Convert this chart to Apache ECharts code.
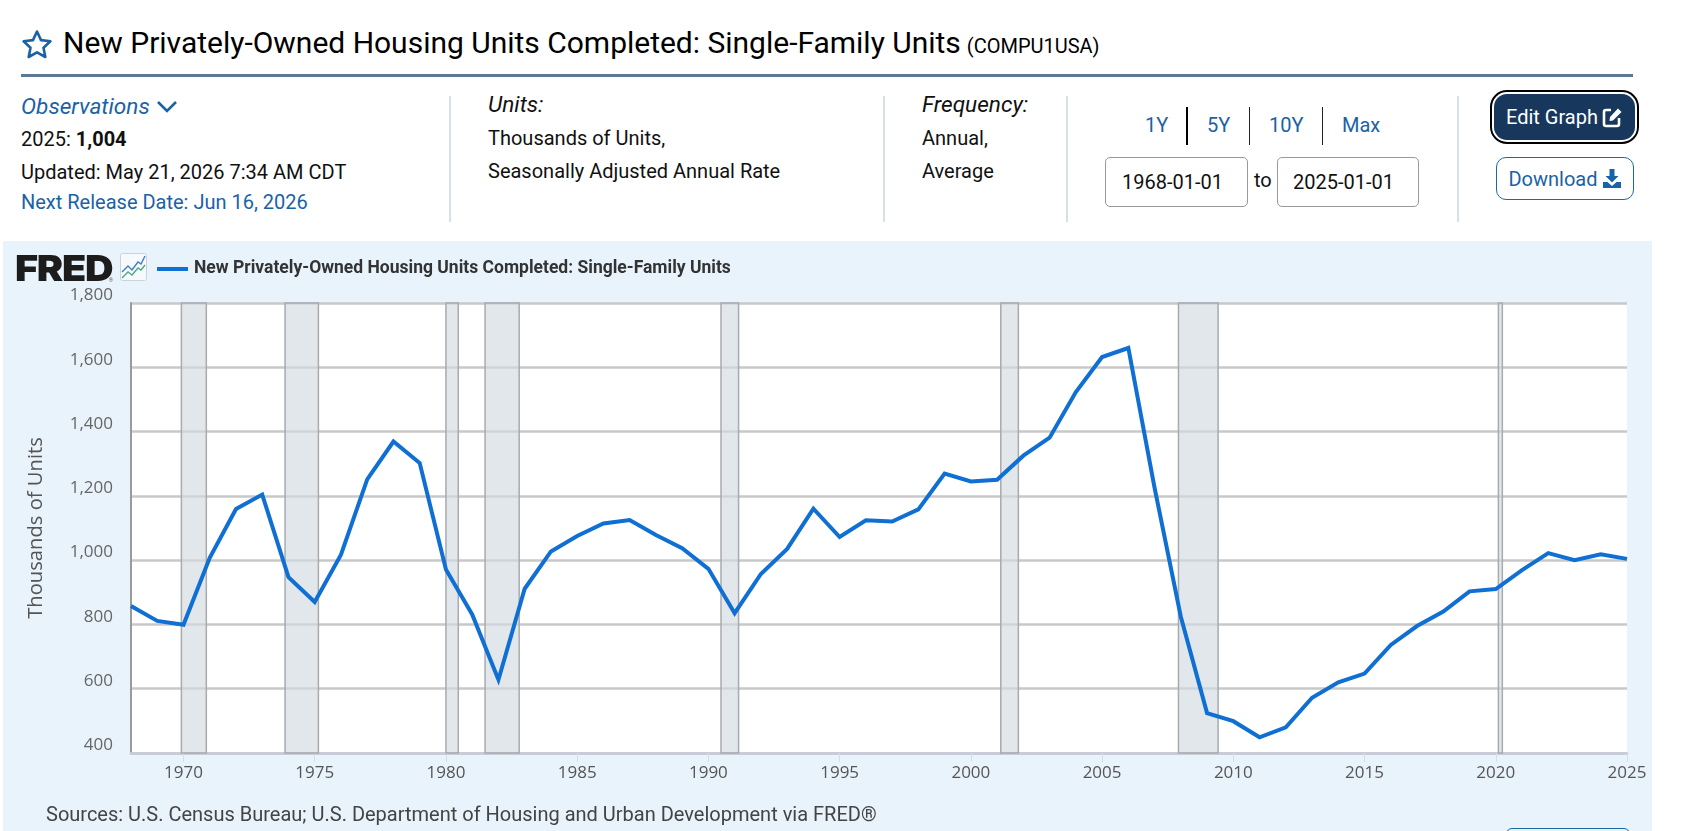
<!DOCTYPE html>
<html>
<head>
<meta charset="utf-8">
<title>COMPU1USA</title>
<script src="https://cdn.jsdelivr.net/npm/echarts@6/dist/echarts.min.js"></script>
<style>
html,body{margin:0;padding:0;background:#fff;width:1681px;height:831px;overflow:hidden;font-family:Roboto,sans-serif;color:#111}
.a{position:absolute;white-space:nowrap;line-height:1}
.m{transform:translateY(-50%)}
.blue{color:#1a62a6}
.sep{position:absolute;width:2px;top:96px;height:126px;background:#d5e0e9}
.box{position:absolute;top:157px;height:48px;border:1px solid #999;border-radius:5px;font-size:20px;display:flex;align-items:center;box-sizing:content-box}
#panel{position:absolute;left:3px;top:241px;width:1649px;height:590px;background:#e9f3fb;overflow:hidden}
#chart{position:absolute;left:0;top:0;width:1681px;height:831px}
</style>
</head>
<body>
<svg class="a" style="left:21px;top:29px" width="32" height="30" viewBox="0 0 32 30"><path d="M16 2.5l4 8.6 9.4 1.2-6.9 6.4 1.8 9.3L16 23.4 7.7 28l1.8-9.3-6.9-6.4 9.4-1.2z" fill="none" stroke="#1a62a6" stroke-width="2.6" stroke-linejoin="round"/></svg>
<div class="a m" style="left:63px;top:43px;font-size:30px;color:#000;letter-spacing:-0.01px">New Privately-Owned Housing Units Completed: Single-Family Units<span style="font-size:20px;margin-left:6px">(COMPU1USA)</span></div>
<div class="a" style="left:21px;top:74px;width:1612px;height:3px;background:#5c7a92"></div>

<div class="a m blue" style="left:21px;top:107px;font-size:22.6px;font-style:italic">Observations</div>
<svg class="a" style="left:156px;top:100px" width="22" height="14" viewBox="0 0 22 14"><path d="M2 2l9 9 9-9" fill="none" stroke="#1a62a6" stroke-width="2.6"/></svg>
<div class="a m" style="left:21px;top:139px;font-size:20px">2025: <b>1,004</b></div>
<div class="a m" style="left:21px;top:172px;font-size:20px">Updated: May 21, 2026 7:34 AM CDT</div>
<div class="a m blue" style="left:21px;top:202px;font-size:20px">Next Release Date: Jun 16, 2026</div>

<div class="sep" style="left:449px"></div>
<div class="a m" style="left:488px;top:105px;font-size:22.6px;font-style:italic">Units:</div>
<div class="a m" style="left:488px;top:138px;font-size:20px">Thousands of Units,</div>
<div class="a m" style="left:488px;top:171px;font-size:20px">Seasonally Adjusted Annual Rate</div>

<div class="sep" style="left:883px"></div>
<div class="a m" style="left:922px;top:105px;font-size:22.6px;font-style:italic">Frequency:</div>
<div class="a m" style="left:922px;top:138px;font-size:20px">Annual,</div>
<div class="a m" style="left:922px;top:171px;font-size:20px">Average</div>

<div class="sep" style="left:1066px"></div>
<div class="a m blue" style="left:1145px;top:125px;font-size:20px">1Y</div>
<div class="a m blue" style="left:1207px;top:125px;font-size:20px">5Y</div>
<div class="a m blue" style="left:1269px;top:125px;font-size:20px">10Y</div>
<div class="a m blue" style="left:1342px;top:125px;font-size:20px">Max</div>
<div class="a" style="left:1186px;top:107px;width:2px;height:38px;background:#000"></div>
<div class="a" style="left:1249px;top:107px;width:1px;height:38px;background:#222"></div>
<div class="a" style="left:1322px;top:107px;width:1px;height:38px;background:#222"></div>
<div class="box" style="left:1105px;width:125px;padding-left:16px">1968-01-01</div>
<div class="a m" style="left:1254px;top:180px;font-size:20px">to</div>
<div class="box" style="left:1277px;width:125px;padding-left:15px">2025-01-01</div>

<div class="sep" style="left:1457px"></div>
<div class="a" style="left:1494px;top:94px;width:141px;height:46px;background:#17385c;border-radius:13px;box-shadow:0 0 0 2px #fff,0 0 0 4px #000;color:#fff;font-size:20px;display:flex;align-items:center;justify-content:center;gap:4px">Edit Graph
<svg width="21" height="21" viewBox="0 0 21 21"><path d="M9 3H4a2 2 0 0 0-2 2v12a2 2 0 0 0 2 2h11a2 2 0 0 0 2-2v-6" fill="none" stroke="#fff" stroke-width="2.6"/><path d="M8 10L16 1.5 19.5 5 11 13.5 7.5 14z" fill="#fff"/></svg></div>
<div class="a blue" style="left:1496px;top:157px;width:136px;height:41px;border:1.5px solid #1a6aa5;border-radius:10px;font-size:20px;display:flex;align-items:center;justify-content:center;gap:4px">Download
<svg width="20" height="21" viewBox="0 0 20 21"><path d="M7.5 1h5v7h4L10 14.5 3.500 8h4z" fill="#1a62a6"/><path d="M1 14h4.500L10 18l4.500-4H19v6H1z" fill="#1a62a6"/></svg></div>

<div id="panel">
  <div class="a" style="left:1503px;top:587px;width:122px;height:30px;border:1.5px solid #1a6aa5;border-radius:6px"></div>
</div>
<div id="chart"></div>

<div class="a" style="left:15px;top:250px;font-family:Inter,sans-serif;font-weight:900;font-size:36px;letter-spacing:-1.2px;color:#1c1c1c;line-height:36px;transform:scaleX(1.1);transform-origin:left center">FRED</div>
<div class="a" style="left:109px;top:278px;font-size:5px;color:#555">®</div>
<svg class="a" style="left:120px;top:253px" width="28" height="29" viewBox="0 0 28 29">
  <rect x="0.500" y="0.500" width="26" height="27" rx="2" fill="#f7fafc" stroke="#c9d3d9"/>
  <path d="M2 19l6-6 4 4 6-8 3 2 4-8" fill="none" stroke="#3f7fc1" stroke-width="1.4"/>
  <path d="M2 25l6-6 4 3 6-7 3 2 4-5" fill="none" stroke="#4fa98a" stroke-width="1.4"/>
</svg>

<script>
var seriesName = 'New Privately-Owned Housing Units Completed: Single-Family Units';
var years = [1968,1969,1970,1971,1972,1973,1974,1975,1976,1977,1978,1979,1980,1981,1982,1983,1984,1985,1986,1987,1988,1989,1990,1991,1992,1993,1994,1995,1996,1997,1998,1999,2000,2001,2002,2003,2004,2005,2006,2007,2008,2009,2010,2011,2012,2013,2014,2015,2016,2017,2018,2019,2020,2021,2022,2023,2024,2025];
var units = [857,811,799,1007,1159,1204,947,870,1017,1251,1369,1302,971,831,628,911,1027,1075,1114,1125,1078,1037,973,835,957,1035,1160,1072,1124,1120,1158,1269,1245,1250,1325,1381,1523,1632,1660,1225,824,524,499,449,480,572,620,647,736,795,840,903,910,969,1022,1000,1018,1004];
var recessionStart = [1969.92,1973.87,1980.0,1981.49,1990.48,2001.14,2007.91,2020.1];
var recessionEnd = [1970.87,1975.14,1980.47,1982.79,1991.15,2001.81,2009.42,2020.25];
var xTickYears = [1970,1975,1980,1985,1990,1995,2000,2005,2010,2015,2020,2025];
var yMin = 400, yMax = 1800, yStep = 200;
var yAxisTitle = 'Thousands of Units';
var sourceNote = 'Sources: U.S. Census Bureau; U.S. Department of Housing and Urban Development via FRED®';

var chart = echarts.init(document.getElementById('chart'), null, {renderer:'canvas'});
chart.setOption({
  animation:false,
  backgroundColor:'transparent',
  textStyle:{fontFamily:'"Open Sans",sans-serif'},
  title:{
    text:sourceNote,left:46,top:805,padding:0,
    textStyle:{fontFamily:'Roboto,sans-serif',fontWeight:'normal',fontSize:20,color:'#444',lineHeight:22}
  },
  legend:{
    left:157,top:260,padding:0,itemGap:0,itemWidth:31,itemHeight:4,icon:'rect',
    data:[seriesName],
    textStyle:{fontFamily:'Roboto,sans-serif',fontWeight:'bold',fontSize:17.5,color:'#333',padding:[0,0,0,1]}
  },
  grid:{left:131,right:54,top:303,height:450,show:true,backgroundColor:'#fff',borderWidth:0,containLabel:false},
  xAxis:{
    type:'value',min:1968,max:2025,
    axisLine:{show:true,lineStyle:{color:'#c8ccd8',width:3}},
    axisTick:{show:true,length:9,customValues:xTickYears,lineStyle:{color:'#d3deec',width:1}},
    axisLabel:{show:true,customValues:xTickYears,margin:12,fontSize:17,color:'#555',hideOverlap:false,showMinLabel:true,showMaxLabel:true,
      formatter:function(v){return String(v);}},
    splitLine:{show:false}
  },
  yAxis:{
    type:'value',min:yMin,max:yMax,interval:yStep,
    name:yAxisTitle,nameLocation:'middle',nameGap:85,nameRotate:90,
    nameTextStyle:{fontSize:20.2,color:'#555',fontFamily:'"Open Sans",sans-serif'},
    axisLine:{show:true,lineStyle:{color:'#9a9a9a',width:2}},
    axisTick:{show:false},
    axisLabel:{margin:18,fontSize:17,color:'#666',verticalAlign:'bottom',padding:[0,0,-1,0],
      formatter:function(v){return v.toLocaleString('en-US');}},
    splitLine:{show:true,lineStyle:{color:'#c8c8c8',width:2.5}}
  },
  series:[{
    name:seriesName,type:'line',showSymbol:false,symbol:'none',smooth:false,
    lineStyle:{color:'#0f6fd3',width:4,join:'miter'},
    itemStyle:{color:'#0f6fd3'},
    data:years.map(function(y,i){return [y,units[i]];}),
    markArea:{
      silent:true,
      itemStyle:{color:'rgba(210,218,226,0.65)',borderColor:'#a8abae',borderWidth:1.5},
      data:recessionStart.map(function(s,i){return [{xAxis:s},{xAxis:recessionEnd[i]}];})
    }
  }]
});
</script>
</body>
</html>
